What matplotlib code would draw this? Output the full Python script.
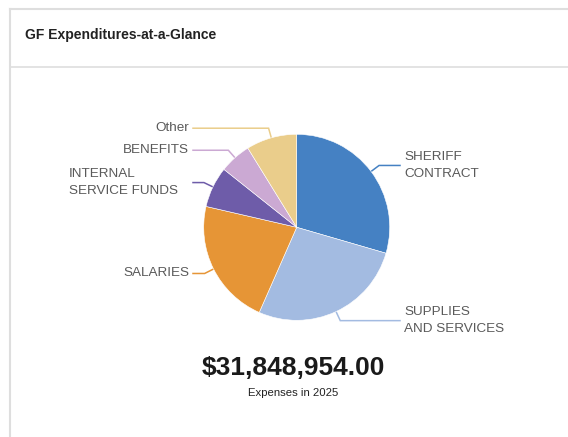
import matplotlib.pyplot as plt
import numpy as np

plt.rcParams['font.family'] = ['Liberation Sans', 'DejaVu Sans']

# general fund expenditures, 2025
categories = ['SHERIFF\nCONTRACT', 'SUPPLIES\nAND SERVICES', 'SALARIES',
              'INTERNAL\nSERVICE FUNDS', 'BENEFITS', 'Other']
amounts = [9395441, 8631066, 7006770, 2261276, 1751692, 2802709]
colors = ['#4581c3', '#a3bbe1', '#e69536', '#6e5ca9', '#cba9d3', '#eacd8b']
title = 'GF Expenditures-at-a-Glance'
subtitle = 'Expenses in 2025'

W, H = 568, 437
fig = plt.figure(figsize=(W / 100, H / 100), dpi=100)

# full-size overlay in pixel units (y grows downward)
bg = fig.add_axes([0, 0, 1, 1])
bg.set_xlim(0, W)
bg.set_ylim(H, 0)
bg.axis('off')

# card outline and header divider
border = '#dedede'
bg.plot([9.5, W], [8.5, 8.5], color=border, lw=1.5)
bg.plot([9.5, 9.5], [8.5, H], color=border, lw=1.5)
bg.plot([9.5, W], [67, 67], color=border, lw=1.2)
bg.text(25, 35, title, fontsize=10, fontweight='bold', color='#222222',
        va='center', ha='left')

# pie
cx, cy, r = 296.7, 227.3, 93
pie_ax = fig.add_axes([(cx - r) / W, (H - cy - r) / H, 2 * r / W, 2 * r / H])
pie_ax.pie(amounts, colors=colors, startangle=90, counterclock=False,
           wedgeprops={'edgecolor': 'white', 'linewidth': 0.4})
pie_ax.set_xlim(-1, 1)
pie_ax.set_ylim(-1, 1)
pie_ax.axis('off')

# leader lines + labels
label_kw = dict(fontsize=9.7, color='#5a5a5a', va='center', linespacing=1.5)
vals = np.array(amounts, dtype=float)
ends = np.cumsum(vals) / vals.sum() * 360
starts = ends - vals / vals.sum() * 360
for lab, col, a0, a1 in zip(categories, colors, starts, ends):
    mid = np.radians((a0 + a1) / 2)
    ex, ey = cx + r * np.sin(mid), cy - r * np.cos(mid)
    ox, oy = cx + (r + 10) * np.sin(mid), cy - (r + 10) * np.cos(mid)
    right = np.sin(mid) > 0
    hx = 400 if right else 193
    bg.plot([ex, ox, hx], [ey, oy, oy], color=col, lw=1.1,
            solid_joinstyle='miter')
    if right:
        bg.text(hx + 4, oy, lab, ha='left', **label_kw)
    elif '\n' in lab:
        bg.text(hx - 15, oy, lab, ha='right', multialignment='left',
                **label_kw)
    else:
        bg.text(hx - 4, oy, lab, ha='right', **label_kw)

total = sum(amounts)
bg.text(293, 368, f'${total:,.2f}', fontsize=19, fontweight='bold',
        color='#1a1a1a', ha='center', va='center')
bg.text(293, 393, subtitle, fontsize=8.2, color='#222222', ha='center',
        va='center')

fig.savefig('out.png', dpi=100)
